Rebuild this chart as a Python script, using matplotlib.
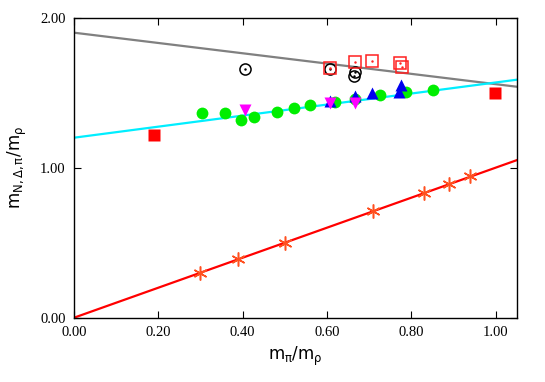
import matplotlib
matplotlib.use("Agg")
import matplotlib.pyplot as plt
import numpy as np

# Data
pion_x = [0.30, 0.39, 0.50, 0.71, 0.83, 0.89, 0.94]
pion_y = [0.30, 0.39, 0.50, 0.71, 0.83, 0.89, 0.945]

green_x = [0.303, 0.357, 0.395, 0.428, 0.481, 0.522, 0.560, 0.618, 0.666, 0.726, 0.787, 0.851]
green_y = [1.363, 1.363, 1.320, 1.336, 1.373, 1.400, 1.416, 1.438, 1.460, 1.487, 1.505, 1.520]

blue_x = [0.608, 0.667, 0.706, 0.776, 0.772]
blue_y = [1.447, 1.476, 1.499, 1.549, 1.503]

mag_x = [0.405, 0.608, 0.667]
mag_y = [1.385, 1.430, 1.430]

circ_x = [0.405, 0.608, 0.666, 0.665]
circ_y = [1.658, 1.660, 1.636, 1.612]

osq_x = [0.608, 0.667, 0.706, 0.773, 0.777]
osq_y = [1.662, 1.703, 1.713, 1.696, 1.673]

fsq_x = [0.190, 0.999]
fsq_y = [1.218, 1.498]

# fit lines (intercept, slope)
gray_fit = (1.90, -0.343)
cyan_fit = (1.20, 0.368)
red_fit = (0.0, 1.0)

xticks = [0.0, 0.2, 0.4, 0.6, 0.8, 1.0]
yticks = [0.0, 1.0, 2.0]

plt.rcParams['mathtext.default'] = 'regular'
fig = plt.figure(figsize=(5.45, 3.82), dpi=100)
ax = fig.add_axes([0.1358, 0.1683, 0.948 - 0.1358, 0.9537 - 0.1683])

xl = np.array([0.0, 1.05])
ax.plot(xl, gray_fit[0] + gray_fit[1] * xl, color='#808080', lw=1.6, zorder=2)
ax.plot(xl, cyan_fit[0] + cyan_fit[1] * xl, color='#00eeff', lw=1.6, zorder=2)
ax.plot(xl, red_fit[0] + red_fit[1] * xl, color='#ff0000', lw=1.6, zorder=2)

ax.plot(green_x, green_y, 'o', color='#00ee00', ms=8.5, mec='none', zorder=3)
ax.plot(blue_x, blue_y, '^', color='#0000ee', ms=8, mec='none', zorder=4)
ax.plot(mag_x, mag_y, 'v', color='#ff00ff', ms=8, mec='none', zorder=4)
ax.plot(circ_x, circ_y, 'o', mfc='none', mec='black', ms=8, mew=1.1, zorder=4)
ax.plot(circ_x, circ_y, '.', color='black', ms=1.5, zorder=4)
ax.plot(osq_x, osq_y, 's', mfc='none', mec='#ff2020', ms=8, mew=1.1, zorder=4)
ax.plot(osq_x, osq_y, '.', color='#ff2020', ms=1.5, zorder=4)
ax.plot(fsq_x, fsq_y, 's', color='#ff0000', ms=8, mec='none', zorder=4)
ax.plot(pion_x, pion_y, marker=(6, 2, 0), ls='none', color='#ff5020', ms=10, mew=1.1, zorder=4)

ax.set_xlim(0, 1.05)
ax.set_ylim(0, 2.0)
ax.set_xticks(xticks)
ax.set_yticks(yticks)
ax.set_xticklabels(['%.2f' % v for v in xticks], family='Liberation Serif', fontsize=10.5)
ax.set_yticklabels(['%.2f' % v for v in yticks], family='Liberation Serif', fontsize=10.5)
ax.tick_params(direction='in', top=True, right=True, length=5, width=0.8, pad=6)
ax.set_xlabel(r'$m_{\pi}/m_{\rho}$', fontsize=12, labelpad=4)
ax.set_ylabel(r'$m_{N,\Delta,\pi}/m_{\rho}$', fontsize=12, labelpad=8)
for s in ax.spines.values():
    s.set_linewidth(1.0)

fig.savefig('out.png', dpi=100)
